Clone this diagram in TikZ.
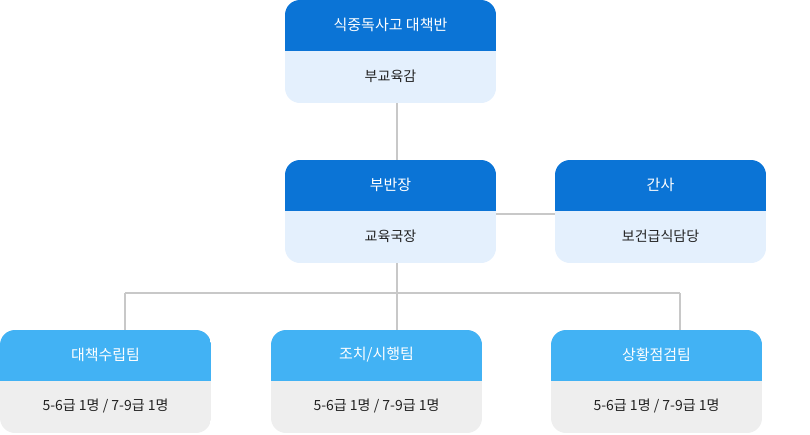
\documentclass[tikz,border=0pt]{standalone}
\usepackage{fontspec}
\setmainfont{Noto Sans CJK KR}
\definecolor{dk}{HTML}{0B74D6}
\definecolor{lb}{HTML}{E4F0FD}
\definecolor{sk}{HTML}{42B2F4}
\definecolor{gr}{HTML}{EEEEEE}
\definecolor{ln}{HTML}{C8C8C8}
\definecolor{tx}{HTML}{222222}
\tikzset{x=1pt,y=-1pt,
 conn/.style={draw=ln,line width=1.2pt},
 ht/.style={text=white,font=\fontsize{15}{18}\selectfont},
 bt/.style={text=tx,font=\fontsize{14}{17}\selectfont}}
\newcommand{\orgbox}[9]{%
 \begin{scope}
 \clip[rounded corners=15pt] (#2,#3) rectangle ++(211,103);
 \fill[#6] (#2,#3) rectangle ++(211,103);
 \fill[#5] (#2,#3) rectangle ++(211,51);
 \end{scope}
 \node[minimum width=211pt,minimum height=103pt,inner sep=0pt,anchor=north west] (#1) at (#2,#3) {};
 \node[ht] (#1h) at (#2+105.5,#3+25) {#7};
 \node[#9] (#1b) at (#2+105.5,#3+76) {#8};
}
\begin{document}
\begin{tikzpicture}
\useasboundingbox (0,0) rectangle (810,434);
\coordinate (j) at (397,293);
\coordinate (jl) at (125,293);
\coordinate (jr) at (680,293);
\orgbox{top}{285}{0}{}{dk}{lb}{식중독사고 대책반}{부교육감}{bt}
\orgbox{mid}{285}{160}{}{dk}{lb}{부반장}{교육국장}{bt}
\orgbox{sec}{555}{160}{}{dk}{lb}{간사}{보건급식담당}{bt}
\begin{scope}[x=1pt,y=-1pt]
\orgbox{b1}{0}{330}{}{sk}{gr}{대책수립팀}{5-6급 1명 / 7-9급 1명}{bt}
\orgbox{b2}{271}{330}{}{sk}{gr}{조치/시행팀}{5-6급 1명 / 7-9급 1명}{bt}
\orgbox{b3}{551}{330}{}{sk}{gr}{상황점검팀}{5-6급 1명 / 7-9급 1명}{bt}
\end{scope}
\draw[conn] (top.south -| j) -- (mid.north -| j);
\draw[conn] (mid.east |- 0,214) -- (sec.west |- 0,214);
\draw[conn] (mid.south -| j) -- (j);
\draw[conn] (jl) -- (jr);
\draw[conn] (jl) -- (b1.north -| jl);
\draw[conn] (j) -- (b2.north -| j);
\draw[conn] (jr) -- (b3.north -| jr);
\end{tikzpicture}
\end{document}
